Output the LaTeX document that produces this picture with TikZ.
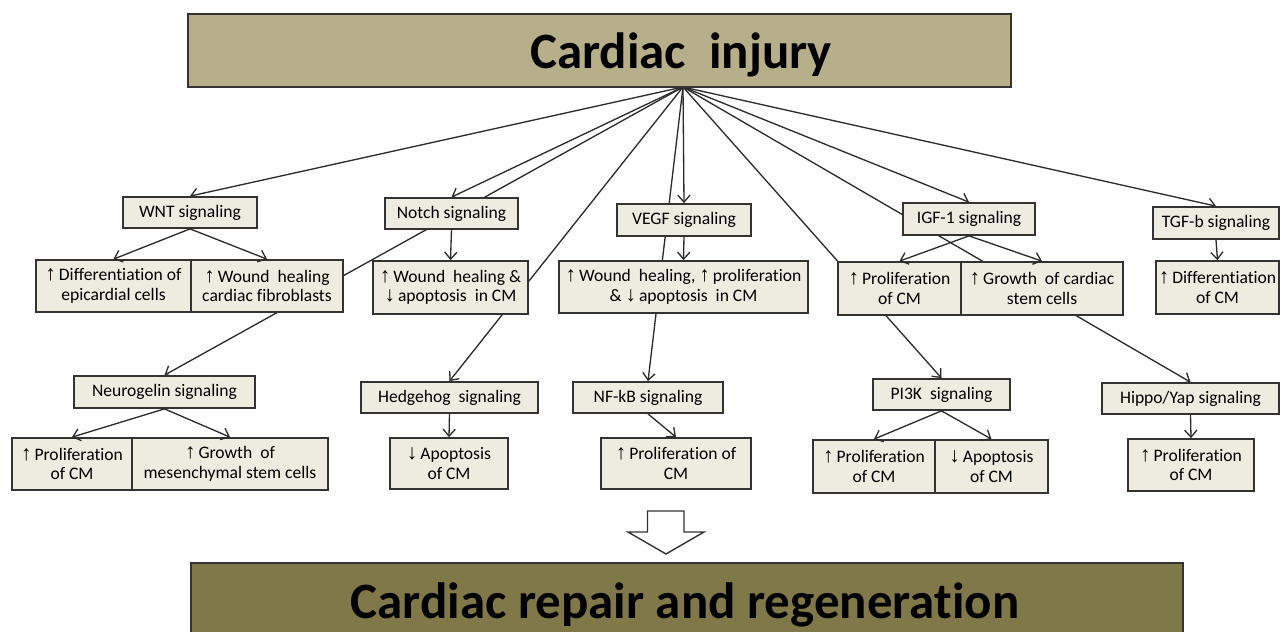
\documentclass[tikz,border=0pt]{standalone}
\usepackage{fontspec}
\setmainfont[Ligatures={NoCommon}]{Carlito}
\newfontfamily\arrfont{Liberation Sans}
\usetikzlibrary{arrows.meta}
\pgfdeclarelayer{bg}
\pgfsetlayers{bg,main}
\definecolor{topfill}{HTML}{B7AF89}
\definecolor{botfill}{HTML}{807848}
\definecolor{boxfill}{HTML}{EEECE1}
\definecolor{edgec}{HTML}{333333}
\definecolor{linkc}{HTML}{2B2B2B}
\newcommand{\uparr}{{\arrfont\fontsize{12}{12}\selectfont ↑}}
\newcommand{\dnarr}{{\arrfont\fontsize{12}{12}\selectfont ↓}}
\begin{document}
\begin{tikzpicture}[x=0.02cm,y=-0.02cm,
  box/.style={draw=edgec, fill=boxfill, line width=1pt, inner sep=1pt, align=center,
    font=\fontsize{10}{11.1}\selectfont},
  bigbox/.style={draw=edgec, line width=0.8pt, inner sep=0pt},
  bigtext/.style={anchor=base, font=\fontsize{29}{34}\selectfont\bfseries},
  link/.style={draw=linkc, line width=0.75pt, -{Straight Barb[length=4pt,width=7pt]}}]
\useasboundingbox (0,0) rectangle (1282,632);
\clip (0,0) rectangle (1282,632);

% title boxes
\node[bigbox, fill=topfill, minimum width=16.46cm, minimum height=1.46cm] (top) at (599.5,50.5) {};
\node[bigtext] (toptxt) at (681,68) {Cardiac\ \ injury};
\coordinate (hub) at (683,87);

\node[bigbox, fill=botfill, minimum width=19.84cm, minimum height=1.6cm] (bot) at (687,603) {};
\node[bigtext] (bottxt) at (685,618) {Cardiac repair and regeneration};

% hollow arrow
\draw[draw=edgec, fill=white, line width=0.8pt] (647.5,511) -- (684,511) -- (684,532) -- (704,532)
  -- (666,554) -- (628,532) -- (647.5,532) -- cycle;

% row 1
\node[box, minimum width=2.68cm, minimum height=0.62cm] (wnt) at (190,212.5) {WNT signaling};
\node[box, minimum width=2.66cm, minimum height=0.62cm] (notch) at (451.5,213.5) {Notch signaling};
\node[box, minimum width=2.68cm, minimum height=0.64cm] (vegf) at (684,220) {VEGF signaling};
\node[box, minimum width=2.64cm, minimum height=0.64cm] (igf) at (969,219) {IGF-1 signaling};
\node[box, minimum width=2.52cm, minimum height=0.64cm] (tgf) at (1216,223) {TGF-b signaling};

% row 2
\node[box, minimum width=3.10cm, minimum height=1.04cm] (wntA) at (113.5,286) {\uparr\,Differentiation of\\epicardial cells};
\node[box, minimum width=3.04cm, minimum height=1.04cm] (wntB) at (267,286) {\uparr\,Wound\ \ healing\\cardiac fibroblasts};
\node[box, minimum width=3.10cm, minimum height=1.06cm] (notchE) at (450.5,287.5) {\uparr\,Wound\ \ healing \&\\\dnarr\,apoptosis\ \ in CM};
\node[box, minimum width=4.98cm, minimum height=1.04cm] (vegfE) at (683.5,287) {\uparr\,Wound\ \ healing, \uparr\,proliferation\\\& \dnarr\,apoptosis\ \ in CM};
\node[box, minimum width=2.46cm, minimum height=1.06cm] (igfA) at (899.5,288.5) {\uparr\,Proliferation\\of CM};
\node[box, minimum width=3.24cm, minimum height=1.06cm] (igfB) at (1042,288.5) {\uparr\,Growth\ \ of cardiac\\stem cells};
\node[box, minimum width=2.46cm, minimum height=1.06cm] (tgfE) at (1217.5,287.5) {\uparr\,Differentiation\\of CM};

% row 3
\node[box, minimum width=3.62cm, minimum height=0.64cm] (neuro) at (164.5,392) {Neurogelin signaling};
\node[box, minimum width=3.54cm, minimum height=0.62cm] (hedge) at (449.5,397.5) {Hedgehog\ \ signaling};
\node[box, minimum width=3.00cm, minimum height=0.62cm] (nfkb) at (648,397.5) {NF-kB signaling};
\node[box, minimum width=2.74cm, minimum height=0.62cm] (pi3k) at (941.5,394.5) {PI3K\ \ signaling};
\node[box, minimum width=3.54cm, minimum height=0.62cm] (hippo) at (1190.5,398.5) {Hippo/Yap signaling};

% row 4
\node[box, minimum width=2.40cm, minimum height=1.04cm] (neuroA) at (72,464) {\uparr\,Proliferation\\of CM};
\node[box, minimum width=3.92cm, minimum height=1.04cm] (neuroB) at (230,464) {\uparr\,Growth\ \ of\\mesenchymal stem cells};
\node[box, minimum width=2.36cm, minimum height=1.02cm] (hedgeE) at (449,463.5) {\dnarr\,Apoptosis\\of CM};
\node[box, minimum width=3.00cm, minimum height=1.02cm] (nfkbE) at (676,463.5) {\uparr\,Proliferation of\\CM};
\node[box, minimum width=2.44cm, minimum height=1.06cm] (pi3kA) at (874,466.5) {\uparr\,Proliferation\\of CM};
\node[box, minimum width=2.26cm, minimum height=1.06cm] (pi3kB) at (991.5,466.5) {\dnarr\,Apoptosis\\of CM};
\node[box, minimum width=2.52cm, minimum height=1.04cm] (hippoE) at (1191,465) {\uparr\,Proliferation\\of CM};

% connectors from the hub (behind the boxes)
\begin{pgfonlayer}{bg}
\foreach \t in {wnt,notch,vegf,igf,tgf,neuro,hedge,nfkb,pi3k,hippo}
  \draw[link] (hub) -- (\t.north);
\end{pgfonlayer}

% local connectors
\draw[link] (wnt.south) -- (wntA.north);
\draw[link] (wnt.south) -- (wntB.north);
\draw[link] (notch.south) -- (notchE.north);
\draw[link] (vegf.south) -- (vegfE.north);
\draw[link] (igf.south) -- (igfA.north);
\draw[link] (igf.south) -- (igfB.north);
\draw[link] (tgf.south) -- (tgfE.north);
\draw[link] (neuro.south) -- (neuroA.north);
\draw[link] (neuro.south) -- (neuroB.north);
\draw[link] (hedge.south) -- (hedgeE.north);
\draw[link] (nfkb.south) -- (nfkbE.north);
\draw[link] (pi3k.south) -- (pi3kA.north);
\draw[link] (pi3k.south) -- (pi3kB.north);
\draw[link] (hippo.south) -- (hippoE.north);
\end{tikzpicture}
\end{document}
